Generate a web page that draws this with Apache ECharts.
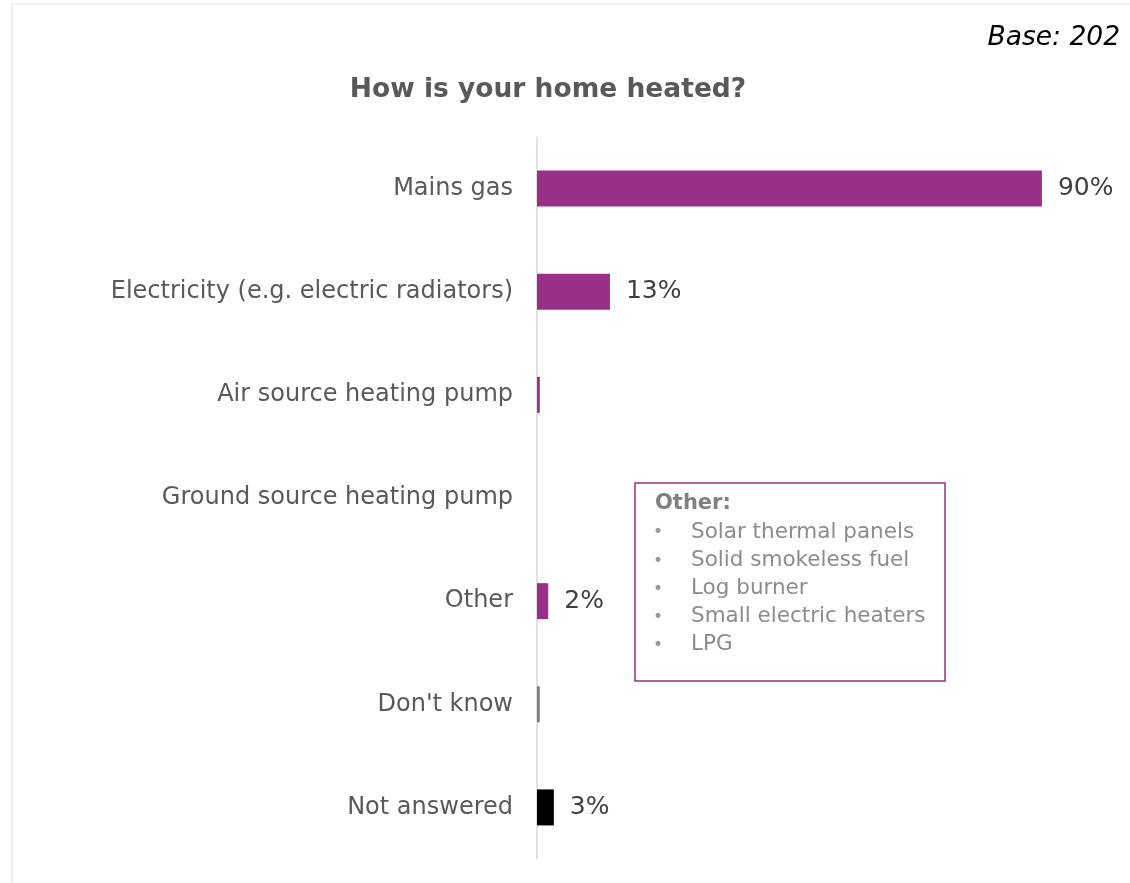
<!DOCTYPE html>
<html>
<head>
<meta charset="utf-8">
<style>
  html, body { margin: 0; padding: 0; background: #fff; }
  #chart { width: 1130px; height: 883px; }
</style>
<script src="https://cdn.jsdelivr.net/npm/echarts@6/dist/echarts.min.js"></script>
</head>
<body>
<div id="chart"></div>
<script>
// Heating type responses (percent of respondents)
const categories = [
  'Mains gas',
  'Electricity (e.g. electric radiators)',
  'Air source heating pump',
  'Ground source heating pump',
  'Other',
  "Don't know",
  'Not answered'
];
const values = [90, 13, 0.5, 0, 2, 0.5, 3];
const barColors = ['#993087', '#993087', '#993087', '#993087', '#993087', '#7f7f7f', '#000000'];
const showValueLabel = [true, true, false, false, true, false, true];
const otherHeading = 'Other:';
const otherItems = [
  'Solar thermal panels',
  'Solid smokeless fuel',
  'Log burner',
  'Small electric heaters',
  'LPG'
];
const baseText = 'Base: 202';
const titleText = 'How is your home heated?';

const FONT = '"DejaVu Sans", Verdana, sans-serif';

const chart = echarts.init(document.getElementById('chart'));

// Note box listing what "Other" covers
const noteChildren = [
  {
    type: 'rect',
    shape: { x: 0, y: 0, width: 310, height: 198 },
    style: { fill: '#fff', stroke: '#993087', lineWidth: 1.5 }
  },
  {
    type: 'text',
    x: 20, y: 21,
    style: { text: otherHeading, font: 'bold 21px ' + FONT, fill: '#808080', verticalAlign: 'middle' }
  }
];
otherItems.forEach((item, i) => {
  noteChildren.push({
    type: 'text',
    x: 18, y: 50 + i * 28.2,
    style: { text: '•', font: '17px ' + FONT, fill: '#999999', verticalAlign: 'middle' }
  });
  noteChildren.push({
    type: 'text',
    x: 56, y: 49 + i * 28.2,
    style: { text: item, font: '21.5px ' + FONT, fill: '#8c8c8c', verticalAlign: 'middle' }
  });
});

chart.setOption({
  animation: false,
  backgroundColor: '#fff',
  title: {
    text: titleText,
    left: 543,
    top: 72,
    textAlign: 'center',
    textStyle: { fontFamily: FONT, fontSize: 26.5, fontWeight: 'bold', color: '#595959' }
  },
  grid: { left: 537, top: 137, width: 561, height: 722, containLabel: false },
  xAxis: {
    type: 'value',
    min: 0,
    max: 100,
    show: false
  },
  yAxis: {
    type: 'category',
    inverse: true,
    data: categories,
    axisLine: { show: true, lineStyle: { color: '#d9d9d9', width: 1.5 } },
    axisTick: { show: false },
    axisLabel: {
      margin: 24,
      padding: [4, 0, 0, 0],
      fontFamily: FONT,
      fontSize: 24,
      color: '#595959'
    }
  },
  series: [{
    type: 'bar',
    barWidth: 36,
    data: values.map((v, i) => ({
      value: v,
      itemStyle: { color: barColors[i] },
      label: { show: showValueLabel[i] }
    })),
    label: {
      position: 'right',
      distance: 16,
      padding: [4, 0, 0, 0],
      formatter: p => p.value + '%',
      fontFamily: FONT,
      fontSize: 25,
      color: '#404040'
    }
  }],
  graphic: [
    {
      type: 'rect',
      silent: true,
      shape: { x: 12, y: 4, width: 1130, height: 900 },
      style: { fill: 'none', stroke: '#ececec', lineWidth: 1.5 }
    },
    {
      type: 'text',
      right: 10,
      top: 25,
      style: { text: baseText, font: 'italic 26.5px ' + FONT, fill: '#000' }
    },
    {
      type: 'group',
      x: 635,
      y: 483,
      children: noteChildren
    }
  ]
});
</script>
</body>
</html>
